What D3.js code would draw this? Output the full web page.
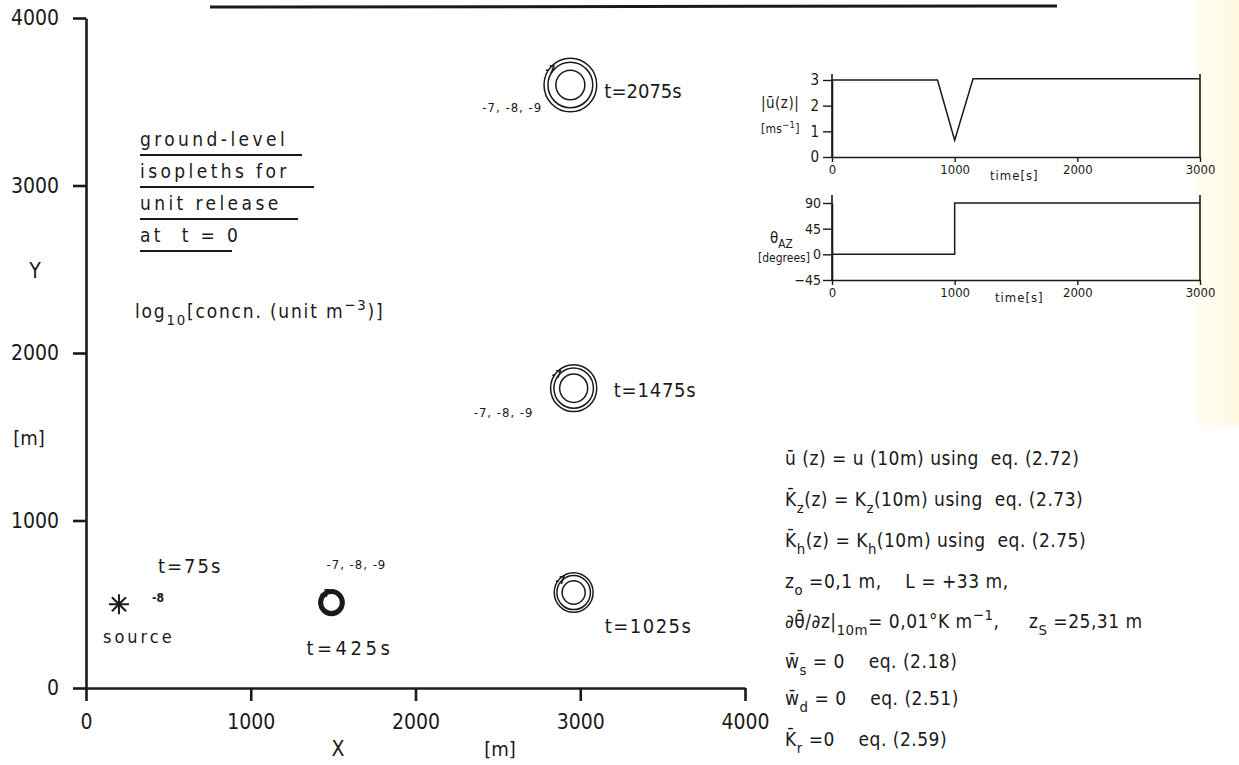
<!DOCTYPE html>
<html><head><meta charset="utf-8">
<script src="https://cdn.jsdelivr.net/npm/d3@7"></script>
<style>
body{margin:0;background:#fff;}
text{font-family:"DejaVu Sans Condensed","DejaVu Sans",sans-serif;fill:#1a1a1a;white-space:pre;}
</style></head>
<body><svg id="c" width="1239" height="765"></svg>
<script>
// ---------- data ----------
const xTicks = [0, 1000, 2000, 3000, 4000];
const yTicks = [0, 1000, 2000, 3000, 4000];
const sourceX = 200, sourceY = 500;
const puffLabels = ["t=425s", "t=1025s", "t=1475s", "t=2075s"];
const puffX = [1490, 2960, 2960, 2940];
const puffY = [510, 570, 1790, 3600];
const puffRings = [[74, 66, 58], [118, 102, 70], [140, 120, 85], [160, 136, 88]];
const contourLevels = "-7, -8, -9";
const speedTime = [0, 860, 1000, 1150, 3000];
const speedValue = [3, 3, 0.65, 3.05, 3.05];
const speedTicks = [0, 1, 2, 3];
const dirTime = [0, 1000, 1000, 3000];
const dirValue = [0, 0, 90, 90];
const dirTicks = [-45, 0, 45, 90];
const timeTicks = [0, 1000, 2000, 3000];

const svg = d3.select("#c");
const ink = "#1a1a1a";
const FONT = '"DejaVu Sans Condensed","DejaVu Sans",sans-serif';

// faint yellowish scan tint at right edge
const grad = svg.append("defs").append("linearGradient").attr("id", "tint").attr("x1", 0).attr("x2", 1);
grad.append("stop").attr("offset", 0).attr("stop-color", "#fffdf3");
grad.append("stop").attr("offset", 1).attr("stop-color", "#fdf9e2");
svg.append("rect").attr("x", 1196).attr("y", 0).attr("width", 43).attr("height", 425).attr("fill", "url(#tint)");

// helper for rich text
function rich(x, y, segs, size, ls) {
  const t = svg.append("text").attr("x", x).attr("y", y)
    .attr("font-size", size).attr("letter-spacing", ls || 0);
  let shift = 0;
  segs.forEach(s => {
    const [str, mode] = Array.isArray(s) ? s : [s, ""];
    let target = mode === "sub" ? size * 0.35 : mode === "sup" ? -size * 0.4 : 0;
    const sp = t.append("tspan").text(str).attr("dy", target - shift);
    if (mode) sp.attr("font-size", size * 0.78);
    shift = target;
  });
  return t;
}

// top decorative line
svg.append("line").attr("x1", 210).attr("x2", 1057).attr("y1", 7).attr("y2", 6)
  .attr("stroke", ink).attr("stroke-width", 3);

// ---------- main plot ----------
const x = d3.scaleLinear().domain([0, 4000]).range([86, 745]);
const y = d3.scaleLinear().domain([0, 4000]).range([688, 18]);

const gx = svg.append("g").attr("transform", `translate(0,${y(0)})`)
  .call(d3.axisBottom(x).tickValues(xTicks).tickFormat(d3.format("d")).tickSize(13).tickSizeOuter(0).tickPadding(10));
const gy = svg.append("g").attr("transform", `translate(${x(0)},0)`)
  .call(d3.axisLeft(y).tickValues(yTicks).tickFormat(d3.format("d")).tickSize(13).tickSizeOuter(0).tickPadding(14));
[gx, gy].forEach(g => {
  g.select(".domain").attr("stroke", ink).attr("stroke-width", 2.6);
  g.selectAll(".tick line").attr("stroke", ink).attr("stroke-width", 2.6);
  g.selectAll(".tick text").attr("font-size", 21).attr("fill", ink).attr("font-family", FONT);
});
gx.selectAll(".tick text").attr("dy", "0.85em");

svg.append("text").attr("x", 338).attr("y", 756).attr("text-anchor", "middle").attr("font-size", 21).text("X");
svg.append("text").attr("x", 500).attr("y", 756).attr("text-anchor", "middle").attr("font-size", 20).text("[m]");
svg.append("text").attr("x", 35).attr("y", 278).attr("text-anchor", "middle").attr("font-size", 21).text("Y");
svg.append("text").attr("x", 29).attr("y", 445).attr("text-anchor", "middle").attr("font-size", 20).text("[m]");

// source asterisk
const sx = x(sourceX), sy = y(sourceY);
[0, 45, 90, 135].forEach(a => {
  const r = 10, rad = a * Math.PI / 180;
  svg.append("line").attr("x1", sx - r * Math.cos(rad)).attr("y1", sy - r * Math.sin(rad))
    .attr("x2", sx + r * Math.cos(rad)).attr("y2", sy + r * Math.sin(rad))
    .attr("stroke", ink).attr("stroke-width", 2);
});
svg.append("text").attr("x", sx - 16).attr("y", sy + 39).attr("font-size", 18).attr("letter-spacing", 3).text("source");
svg.append("text").attr("x", sx + 39).attr("y", sy - 31).attr("font-size", 20).attr("letter-spacing", 2).text("t=75s");
svg.append("text").attr("x", sx + 33).attr("y", sy - 2).attr("font-size", 12).attr("font-weight", "bold").text("-8");

// puffs
puffX.forEach((px, i) => {
  const cx = x(px), cy = y(puffY[i]);
  puffRings[i].forEach((r, j) => {
    svg.append("ellipse").attr("cx", cx).attr("cy", cy)
      .attr("rx", x(r) - x(0)).attr("ry", y(0) - y(r))
      .attr("fill", "none").attr("stroke", ink).attr("stroke-width", i === 0 ? 2.4 : 1.5);
  });
  const r0 = puffRings[i][0];
  svg.append("text").attr("x", cx - (x(r0) - x(0)) * 0.95).attr("y", cy - (y(0) - y(r0)) * 0.45)
    .attr("font-size", 10).attr("font-weight", "bold").text("-7");
});
// time labels
const tl = [[-25, 52, 3.5], [31, 40, 1.5], [40, 9, 0.8], [34, 13, 0]];
puffX.forEach((px, i) => {
  svg.append("text").attr("x", x(px) + tl[i][0]).attr("y", y(puffY[i]) + tl[i][1])
    .attr("font-size", 20).attr("letter-spacing", tl[i][2]).text(puffLabels[i]);
});
// contour level labels
const cl = [[-5, -34], [-100, 29], [-88, 27]];
[0, 2, 3].forEach((i, k) => {
  svg.append("text").attr("x", x(puffX[i]) + cl[k][0]).attr("y", y(puffY[i]) + cl[k][1])
    .attr("font-size", 13).attr("letter-spacing", 1).text(contourLevels);
});

// left text block
const heads = ["ground-level", "isopleths for", "unit release", "at  t = 0"];
const headLen = [162, 174, 158, 92];
heads.forEach((h, i) => {
  const yy = 146 + i * 32;
  svg.append("text").attr("x", 140).attr("y", yy).attr("font-size", 19).attr("letter-spacing", 3.4).text(h);
  svg.append("line").attr("x1", 140).attr("x2", 140 + headLen[i]).attr("y1", yy + 9).attr("y2", yy + 9)
    .attr("stroke", ink).attr("stroke-width", 2);
});
rich(135, 318, ["log", ["10", "sub"], "[concn. (unit m", ["−3", "sup"], ")]"], 19, 1.8);

// ---------- inset 1: speed ----------
const tx = d3.scaleLinear().domain([0, 3000]).range([832, 1200]);
const ys = d3.scaleLinear().domain([0, 3]).range([157, 80]);
const g1 = svg.append("g");
g1.append("g").attr("transform", `translate(0,${ys(0)})`)
  .call(d3.axisBottom(tx).tickValues(timeTicks).tickFormat(d3.format("d")).tickSize(5).tickSizeOuter(0).tickPadding(3))
  .call(g => g.selectAll(".tick text").attr("font-size", 13));
g1.append("g").attr("transform", `translate(${tx(0)},0)`)
  .call(d3.axisLeft(ys).tickValues(speedTicks).tickFormat(d3.format("d")).tickSize(9).tickSizeOuter(0).tickPadding(4))
  .call(g => g.selectAll(".tick text").attr("font-size", 15));
g1.append("line").attr("x1", tx(0)).attr("x2", tx(0)).attr("y1", ys(0)).attr("y2", 74).attr("stroke", ink).attr("stroke-width", 1.6);
g1.append("line").attr("x1", tx(3000)).attr("x2", tx(3000)).attr("y1", ys(0)).attr("y2", 74).attr("stroke", ink).attr("stroke-width", 1.6);
g1.append("path").datum(speedTime.map((t, i) => [t, speedValue[i]]))
  .attr("d", d3.line().x(d => tx(d[0])).y(d => ys(d[1])))
  .attr("fill", "none").attr("stroke", ink).attr("stroke-width", 1.5);
svg.append("text").attr("x", 990).attr("y", 180).attr("font-size", 13).attr("letter-spacing", 1).text("time[s]");
rich(761, 108, ["|ū(z)|"], 15, 0.5);
rich(761, 133, ["[ms", ["−1", "sup"], "]"], 12, 0.3);

// ---------- inset 2: direction ----------
const yd = d3.scaleLinear().domain([-45, 90]).range([280, 203]);
const g2 = svg.append("g");
g2.append("g").attr("transform", `translate(0,${yd(-45)})`)
  .call(d3.axisBottom(tx).tickValues(timeTicks).tickFormat(d3.format("d")).tickSize(5).tickSizeOuter(0).tickPadding(3))
  .call(g => g.selectAll(".tick text").attr("font-size", 13));
g2.append("g").attr("transform", `translate(${tx(0)},0)`)
  .call(d3.axisLeft(yd).tickValues(dirTicks).tickFormat(d3.format("d")).tickSize(9).tickSizeOuter(0).tickPadding(2))
  .call(g => g.selectAll(".tick text").attr("font-size", 14));
g2.append("line").attr("x1", tx(0)).attr("x2", tx(0)).attr("y1", yd(-45)).attr("y2", 195).attr("stroke", ink).attr("stroke-width", 1.6);
g2.append("line").attr("x1", tx(3000)).attr("x2", tx(3000)).attr("y1", yd(-45)).attr("y2", 195).attr("stroke", ink).attr("stroke-width", 1.6);
g2.append("path").datum(dirTime.map((t, i) => [t, dirValue[i]]))
  .attr("d", d3.line().x(d => tx(d[0])).y(d => yd(d[1])))
  .attr("fill", "none").attr("stroke", ink).attr("stroke-width", 1.5);
svg.append("text").attr("x", 995).attr("y", 302).attr("font-size", 13).attr("letter-spacing", 1).text("time[s]");
rich(770, 243, ["θ", ["AZ", "sub"]], 15, 0);
svg.append("text").attr("x", 758).attr("y", 262).attr("font-size", 12).text("[degrees]");

[g1, g2].forEach(g => {
  g.selectAll(".domain").attr("stroke", ink).attr("stroke-width", 1.6);
  g.selectAll(".tick line").attr("stroke", ink).attr("stroke-width", 1.4);
  g.selectAll(".tick text").attr("fill", ink).attr("font-family", FONT);
});

// ---------- equations ----------
const eqs = [
  ["ū (z) = u (10m) using  eq. (2.72)"],
  ["K̄", ["z", "sub"], "(z) = K", ["z", "sub"], "(10m) using  eq. (2.73)"],
  ["K̄", ["h", "sub"], "(z) = K", ["h", "sub"], "(10m) using  eq. (2.75)"],
  ["z", ["o", "sub"], " =0,1 m,    L = +33 m,"],
  ["∂θ̄/∂z|", ["10m", "sub"], "= 0,01°K m", ["−1", "sup"], ",     z", ["S", "sub"], " =25,31 m"],
  ["w̄", ["s", "sub"], " = 0    eq. (2.18)"],
  ["w̄", ["d", "sub"], " = 0    eq. (2.51)"],
  ["K̄", ["r", "sub"], " =0    eq. (2.59)"]
];
const eqY = [465, 506, 547, 588, 628, 668, 705, 746];
eqs.forEach((e, i) => rich(785, eqY[i], e, 19, 0.5));
</script></body></html>
